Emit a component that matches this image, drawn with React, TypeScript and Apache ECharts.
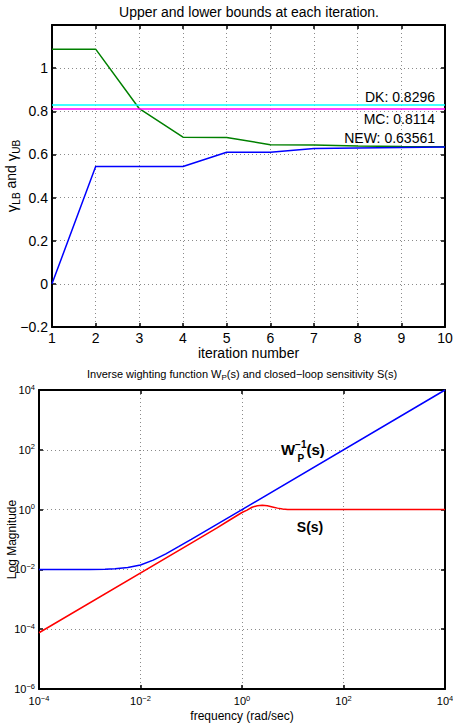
import React, { useEffect, useRef } from "react";
import * as echarts from "echarts";

// ---- Top chart data ----
const iterations = [1, 2, 3, 4, 5, 6, 7, 8, 9, 10];
const upperBound = [1.088, 1.088, 0.812, 0.68, 0.679, 0.645, 0.644, 0.639, 0.637, 0.636];
const lowerBound = [0, 0.544, 0.544, 0.544, 0.61, 0.61, 0.627, 0.63, 0.632, 0.634];
const dkValue = 0.8296;
const mcValue = 0.8114;
const newValue = 0.63561;

// ---- Bottom chart data ----
const freqW = [1e-4, 1e-3, 2e-3, 3.16e-3, 5.62e-3, 1e-2, 1.78e-2, 3.16e-2, 5.62e-2, 1e-1, 1, 1e4];
const magW = [0.01, 0.01, 0.0101, 0.0105, 0.0115, 0.0141, 0.0205, 0.0331, 0.0575, 0.1005, 1, 1e4];
const freqS = [1e-4, 0.1, 0.316, 0.562, 1, 1.26, 1.58, 2, 2.51, 3.16, 3.98, 5.01, 6.31, 7.94, 10, 1e4];
const magS = [7.6e-5, 0.076, 0.24, 0.44, 0.8, 0.96, 1.2, 1.35, 1.41, 1.35, 1.23, 1.12, 1.05, 1.01, 1.0, 1.0];

const FONT = "'Liberation Sans', Arial, Helvetica, sans-serif";

const zip = (a: number[], b: number[]) => a.map((v, i) => [v, b[i]]);

const powLabel = (v: number) => {
  const e = Math.round(Math.log10(v));
  return `{b|10}{e|${e < 0 ? "\u2212" : ""}${Math.abs(e)}}`;
};
const powRich = {
  b: { fontSize: 11, fontFamily: FONT, color: "#000", lineHeight: 14 },
  e: { fontSize: 7.5, fontFamily: FONT, color: "#000", lineHeight: 8, verticalAlign: "top" },
};

const boxAxisLine = { show: true, onZero: false, lineStyle: { color: "#000", width: 2 } };
const tick = { show: true, inside: true, length: 4, lineStyle: { color: "#000", width: 1.5 } };
const gridLine = { show: true, lineStyle: { color: "#8a8a8a", type: [1, 3], width: 1 } };

const annLabel = (text: string, pos: string, dy: number) => ({
  show: true,
  position: pos,
  formatter: text,
  fontSize: 14,
  fontFamily: FONT,
  color: "#000",
  distance: [10, dy],
});

export default function App() {
  const ref = useRef<HTMLDivElement>(null);
  useEffect(() => {
    if (!ref.current) return;
    const chart = echarts.init(ref.current, undefined, { renderer: "svg" });
    const option: any = {
      animation: false,
      backgroundColor: "#fff",
      grid: [
        { left: 52, top: 25, width: 393, height: 302, containLabel: false, outerBoundsMode: "none" },
        { left: 39, top: 390, width: 406, height: 299, containLabel: false, outerBoundsMode: "none" },
      ],
      graphic: [
        {
          type: "text",
          x: 249,
          y: 12,
          style: {
            text: "Upper and lower bounds at each iteration.",
            fontSize: 14,
            fontFamily: FONT,
            fill: "#000",
            align: "center",
            verticalAlign: "middle",
          },
        },
        {
          type: "text",
          x: 242,
          y: 374,
          style: {
            text: "{t|Inverse wighting function W}{s|P}{t|(s) and closed\u2212loop sensitivity S(s)}",
            align: "center",
            verticalAlign: "middle",
            rich: {
              t: { fontSize: 11, fontFamily: FONT, fill: "#000", lineHeight: 15 },
              s: { fontSize: 8, fontFamily: FONT, fill: "#000", lineHeight: 8, verticalAlign: "bottom" },
            },
          },
        },
      ],
      xAxis: [
        {
          gridIndex: 0,
          type: "value",
          min: 1,
          max: 10,
          interval: 1,
          axisLine: boxAxisLine,
          axisTick: tick,
          splitLine: gridLine,
          axisLabel: { fontSize: 14, fontFamily: FONT, color: "#000", margin: 4 },
          name: "iteration number",
          nameLocation: "middle",
          nameGap: 19,
          nameMoveOverlap: false,
          nameTextStyle: { fontSize: 14, fontFamily: FONT, color: "#000" },
        },
        {
          gridIndex: 0,
          type: "value",
          position: "top",
          min: 1,
          max: 10,
          interval: 1,
          axisLine: boxAxisLine,
          axisTick: tick,
          splitLine: { show: false },
          axisLabel: { show: false },
        },
        {
          gridIndex: 1,
          type: "log",
          logBase: 10,
          min: 1e-4,
          max: 1e4,
          interval: 2,
          axisLine: boxAxisLine,
          axisTick: tick,
          splitLine: gridLine,
          axisLabel: { formatter: powLabel, rich: powRich, margin: 5 },
          name: "frequency (rad/sec)",
          nameLocation: "middle",
          nameGap: 21,
          nameMoveOverlap: false,
          nameTextStyle: { fontSize: 12, fontFamily: FONT, color: "#000" },
        },
        {
          gridIndex: 1,
          type: "log",
          logBase: 10,
          position: "top",
          min: 1e-4,
          max: 1e4,
          interval: 2,
          axisLine: boxAxisLine,
          axisTick: tick,
          splitLine: { show: false },
          axisLabel: { show: false },
        },
      ],
      yAxis: [
        {
          gridIndex: 0,
          type: "value",
          min: -0.2,
          max: 1.2,
          interval: 0.2,
          axisLine: boxAxisLine,
          axisTick: tick,
          splitLine: gridLine,
          axisLabel: {
            fontSize: 14,
            fontFamily: FONT,
            color: "#000",
            margin: 4,
            formatter: (v: number) => {
              if (v > 1.1) return "";
              const r = Math.round(v * 10) / 10;
              return (r < 0 ? "\u2212" : "") + String(Math.abs(r));
            },
          },
          name: "{g|\u03b3}{s|LB}{t| and }{g|\u03b3}{s|UB}",
          nameLocation: "middle",
          nameGap: 31,
          nameMoveOverlap: false,
          nameTextStyle: {
            rich: {
              g: { fontSize: 15, fontFamily: FONT, color: "#000", lineHeight: 20 },
              t: { fontSize: 14, fontFamily: FONT, color: "#000", lineHeight: 20 },
              s: { fontSize: 10, fontFamily: FONT, color: "#000", lineHeight: 10, verticalAlign: "bottom" },
            },
          },
        },
        {
          gridIndex: 0,
          type: "value",
          position: "right",
          min: -0.2,
          max: 1.2,
          interval: 0.2,
          axisLine: boxAxisLine,
          axisTick: tick,
          splitLine: { show: false },
          axisLabel: { show: false },
        },
        {
          gridIndex: 1,
          type: "log",
          logBase: 10,
          min: 1e-6,
          max: 1e4,
          interval: 2,
          axisLine: boxAxisLine,
          axisTick: tick,
          splitLine: gridLine,
          axisLabel: { formatter: powLabel, rich: powRich, margin: 4 },
          name: "Log Magnitude",
          nameLocation: "middle",
          nameGap: 21,
          nameMoveOverlap: false,
          nameTextStyle: { fontSize: 12, fontFamily: FONT, color: "#000" },
        },
        {
          gridIndex: 1,
          type: "log",
          logBase: 10,
          position: "right",
          min: 1e-6,
          max: 1e4,
          interval: 2,
          axisLine: boxAxisLine,
          axisTick: tick,
          splitLine: { show: false },
          axisLabel: { show: false },
        },
      ],
      series: [
        {
          type: "line",
          xAxisIndex: 0,
          yAxisIndex: 0,
          data: [],
          markLine: {
            silent: true,
            symbol: ["none", "none"],
            data: [
              {
                yAxis: dkValue,
                lineStyle: { color: "#00ffff", width: 1.5, type: "solid" },
                label: annLabel(`DK: ${dkValue}`, "insideEndTop", 1),
              },
              {
                yAxis: mcValue,
                lineStyle: { color: "#ff00ff", width: 1.5, type: "solid" },
                label: annLabel(`MC: ${mcValue}`, "insideEndBottom", 3),
              },
              {
                yAxis: newValue,
                lineStyle: { color: "rgba(0,0,0,0)", width: 0 },
                label: annLabel(`NEW: ${newValue}`, "insideEndTop", 1),
              },
            ],
          },
        },
        {
          type: "line",
          xAxisIndex: 0,
          yAxisIndex: 0,
          data: zip(iterations, upperBound),
          symbol: "none",
          lineStyle: { color: "#008000", width: 1.5 },
          itemStyle: { color: "#008000" },
        },
        {
          type: "line",
          xAxisIndex: 0,
          yAxisIndex: 0,
          data: zip(iterations, lowerBound),
          symbol: "none",
          lineStyle: { color: "#0000ff", width: 1.5 },
          itemStyle: { color: "#0000ff" },
        },
        {
          type: "line",
          xAxisIndex: 2,
          yAxisIndex: 2,
          data: zip(freqW, magW),
          symbol: "none",
          lineStyle: { color: "#0000ff", width: 1.5 },
          itemStyle: { color: "#0000ff" },
          markPoint: {
            symbol: "circle",
            symbolSize: 0,
            silent: true,
            data: [
              {
                coord: [15.8, 100],
                label: {
                  show: true,
                  position: "inside",
                  formatter: "{w|W}{sp|\u22121}{w|(s)}",
                  rich: {
                    w: { fontSize: 15, fontWeight: "bold", fontFamily: FONT, color: "#000", lineHeight: 20 },
                    sp: { fontSize: 10, fontWeight: "bold", fontFamily: FONT, color: "#000", lineHeight: 10, verticalAlign: "top" },
                  },
                },
              },
              {
                coord: [15.8, 100],
                label: {
                  show: true,
                  position: "inside",
                  offset: [-2, 9],
                  formatter: "P",
                  fontSize: 10,
                  fontWeight: "bold",
                  fontFamily: FONT,
                  color: "#000",
                },
              },
            ],
          },
        },
        {
          type: "line",
          xAxisIndex: 2,
          yAxisIndex: 2,
          data: zip(freqS, magS),
          symbol: "none",
          lineStyle: { color: "#ff0000", width: 1.5 },
          itemStyle: { color: "#ff0000" },
          markPoint: {
            symbol: "circle",
            symbolSize: 0,
            silent: true,
            data: [
              {
                coord: [21.9, 0.26],
                label: {
                  show: true,
                  position: "inside",
                  formatter: "S(s)",
                  fontSize: 14,
                  fontWeight: "bold",
                  fontFamily: FONT,
                  color: "#000",
                },
              },
            ],
          },
        },
      ],
    };
    chart.setOption(option);
    return () => chart.dispose();
  }, []);
  return (
    <div
      ref={ref}
      style={{ position: "fixed", left: 0, top: 0, width: 453, height: 725, background: "#fff" }}
    />
  );
}
